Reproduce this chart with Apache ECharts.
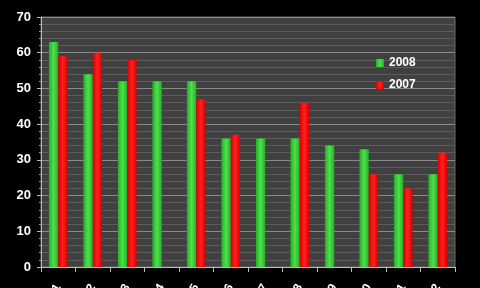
<!DOCTYPE html>
<html><head><meta charset="utf-8">
<script src="https://cdn.jsdelivr.net/npm/echarts@6/dist/echarts.min.js"></script>
<style>html,body{margin:0;padding:0;background:#000}#c{width:480px;height:288px}</style>
</head><body><div id="c"></div>
<script>
const categories = ['Category 1','Category 2','Category 3','Category 4','Category 5','Category 6','Category 7','Category 8','Category 9','Category 10','Category 11','Category 12'];
const series2008 = [63, 54, 52, 52, 52, 36, 36, 36, 34, 33, 26, 26];
const series2007 = [59, 60, 58, null, 47, 37, null, 46, null, 26, 22, 32];
const yTicks = [0, 10, 20, 30, 40, 50, 60, 70];

const chart = echarts.init(document.getElementById('c'));
function grad(edge, mid) {
  return new echarts.graphic.LinearGradient(0, 0, 1, 0, [
    {offset: 0, color: edge}, {offset: 0.5, color: mid}, {offset: 1, color: edge}
  ]);
}
chart.setOption({
  backgroundColor: '#000',
  animation: false,
  grid: {left: 41, right: 25, top: 17, bottom: 21, show: true, backgroundColor: '#404040', borderColor: '#6a6a6a', borderWidth: 1, containLabel: false, outerBoundsMode: 'none'},
  legend: {
    orient: 'vertical', left: 371, top: 52, itemGap: 10, itemWidth: 8, itemHeight: 8,
    icon: 'rect',
    textStyle: {color: '#fff', fontWeight: 'bold', fontSize: 12, fontFamily: 'Liberation Sans'},
    data: ['2008', '2007']
  },
  xAxis: {
    type: 'category', data: categories,
    axisLine: {show: true, lineStyle: {color: '#bbb'}},
    axisTick: {show: true, length: 5, lineStyle: {color: '#bbb'}},
    axisLabel: {color: '#fff', rotate: 60, margin: 18, fontSize: 12, fontWeight: 'bold', interval: 0},
    splitLine: {show: false}
  },
  yAxis: {
    type: 'value', min: yTicks[0], max: yTicks[yTicks.length - 1], interval: 10,
    axisLine: {show: true, lineStyle: {color: '#bbb'}},
    axisTick: {show: true, length: 4, lineStyle: {color: '#bbb'}},
    minorTick: {show: true, splitNumber: 5, length: 2, lineStyle: {color: '#999'}},
    axisLabel: {color: '#fff', fontSize: 13, fontWeight: 'bold', fontFamily: 'Liberation Sans', margin: 10},
    splitLine: {show: true, lineStyle: {color: '#8a8a8a', width: 1}},
    minorSplitLine: {show: true, lineStyle: {color: '#5c5c5c', width: 1}}
  },
  series: [
    {name: '2008', type: 'bar', data: series2008, barWidth: '27%', barGap: '0%',
     itemStyle: {color: grad('#22b022', '#4ee04e')}},
    {name: '2007', type: 'bar', data: series2007, barWidth: '27%', barGap: '0%',
     itemStyle: {color: grad('#d80000', '#ff2020')}}
  ]
});
</script></body></html>
